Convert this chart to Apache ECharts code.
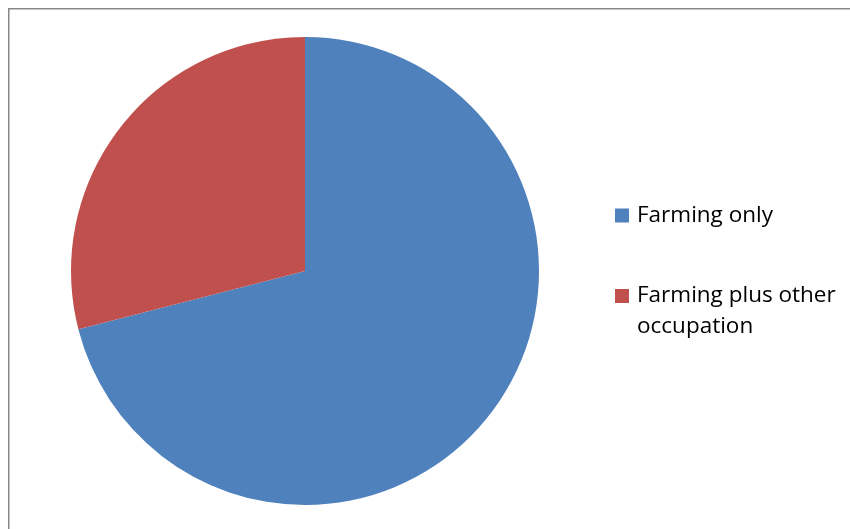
<!DOCTYPE html>
<html>
<head>
<meta charset="utf-8">
<script src="https://cdn.jsdelivr.net/npm/echarts@6/dist/echarts.min.js"></script>
<style>
  html, body { margin: 0; padding: 0; background: #fff; }
  #chart { width: 850px; height: 529px; }
</style>
</head>
<body>
<div id="chart"></div>
<script>
// Share of households by occupation (percent)
const categories = ['Farming only', 'Farming plus other occupation'];
const shares = [71, 29];
const colors = ['#4F81BD', '#C0504D'];

const chart = echarts.init(document.getElementById('chart'), null, { renderer: 'canvas' });

const pieData = categories.map((name, i) => ({
  name: name,
  value: shares[i],
  itemStyle: { color: colors[i] }
}));

const legendText = {
  fontFamily: '"Open Sans", "Liberation Sans", sans-serif',
  fontSize: 22.5,
  color: '#000',
  lineHeight: 31,
  padding: [0, 0, 0, 3]
};

chart.setOption({
  animation: false,
  backgroundColor: '#fff',
  graphic: [{
    type: 'rect',
    shape: { x: 8.75, y: 8.75, width: 900, height: 600 },
    style: { fill: 'none', stroke: '#878787', lineWidth: 1.5 },
    silent: true
  }],
  legend: [{
    data: [categories[0]],
    left: 615,
    top: 200,
    padding: 0,
    icon: 'rect',
    itemWidth: 14,
    itemHeight: 14,
    selectedMode: false,
    textStyle: legendText
  }, {
    // leading blank line keeps the marker beside the first text line
    data: [categories[1]],
    left: 615,
    top: 249.5,
    padding: 0,
    icon: 'rect',
    itemWidth: 14,
    itemHeight: 14,
    selectedMode: false,
    formatter: function () { return '\nFarming plus other\noccupation'; },
    textStyle: legendText
  }],
  series: [{
    type: 'pie',
    center: [305, 271],
    radius: 234,
    startAngle: 90,
    clockwise: true,
    label: { show: false },
    labelLine: { show: false },
    emphasis: { disabled: true },
    itemStyle: { borderWidth: 0 },
    data: pieData
  }]
});
</script>
</body>
</html>
